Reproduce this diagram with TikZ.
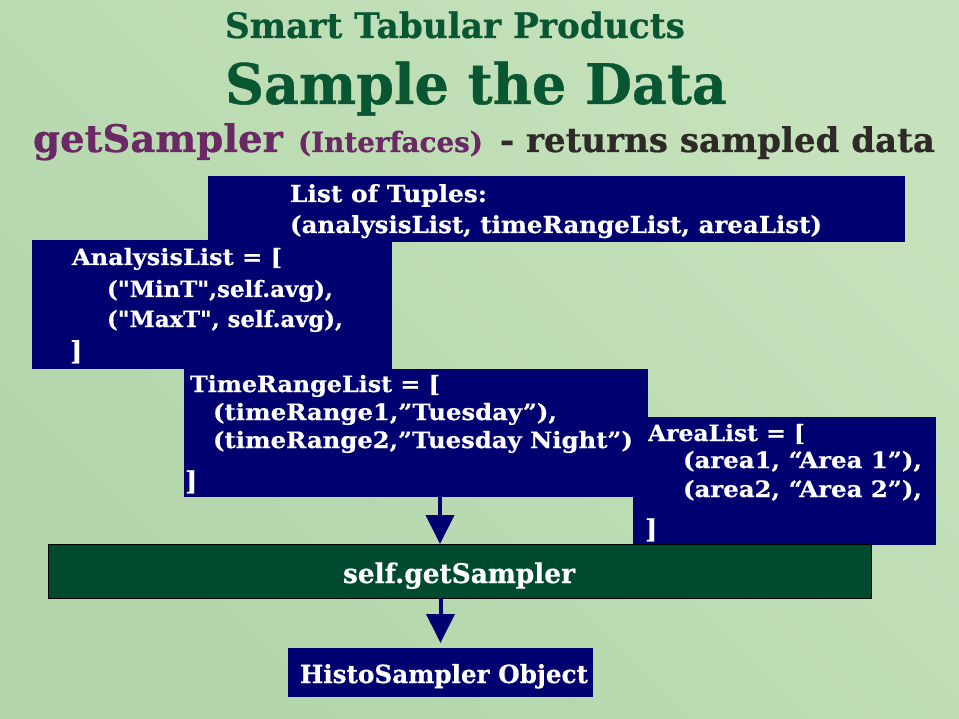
\documentclass[tikz,border=0pt]{standalone}
\usepackage{fontspec}
\setmainfont{DejaVu Serif}[Ligatures=TeXOff, BoldFeatures={FakeBold=0.6}]
\usetikzlibrary{arrows.meta}

\definecolor{navy}{RGB}{0,0,112}
\definecolor{boxgreen}{RGB}{0,75,45}
\definecolor{titlegreen}{RGB}{8,86,50}
\definecolor{plum}{RGB}{106,40,100}
\definecolor{inkdark}{RGB}{46,42,40}
\definecolor{mintA}{RGB}{178,214,170}
\definecolor{mintB}{RGB}{198,226,188}

% set a line of text at a fixed width, keeping its natural height
\newcommand\wline[2]{\resizebox{#1pt}{\height}{#2}}
\newcommand\fs[1]{\fontsize{#1}{#1}\selectfont\bfseries}

\tikzset{
  box/.style={rectangle, fill=navy, draw=none, inner sep=0pt, outer sep=0pt},
  gbox/.style={rectangle, fill=boxgreen, draw=black, line width=1pt, inner sep=0pt, outer sep=0pt},
  txt/.style={anchor=base west, inner sep=0pt, outer sep=0pt, text=white, font=\fs{22.5}},
  brk/.style={txt, font=\fs{26}},
  ttl/.style={anchor=base west, inner sep=0pt, outer sep=0pt},
  arr/.style={draw=navy, line width=4pt, -{Triangle[width=28pt,length=29pt]}},
}

\begin{document}
\begin{tikzpicture}[x=1pt,y=-1pt]
  % background
  \shade[left color=mintA, right color=mintB, shading angle=135] (0,0) rectangle (959,719);
  \useasboundingbox (0,0) rectangle (959,719);

  % headings
  \node[ttl, text=titlegreen, font=\fs{35}] (h1) at (225,38) {\wline{460}{Smart Tabular Products}};
  \node[ttl, text=titlegreen, font=\fs{56}] (h2) at (225,104) {\wline{502}{Sample the Data}};
  \node[ttl, text=plum, font=\fs{38}] (h3a) at (33,152) {\wline{250}{getSampler}};
  \node[ttl, text=plum, font=\fs{28}] (h3b) at (298,152) {\wline{185}{(Interfaces)}};
  \node[ttl, text=inkdark, font=\fs{34}] (h3c) at (500,152) {\wline{435}{- returns sampled data}};

  % list of tuples
  \node[box, minimum width=697pt, minimum height=66pt] (tuples) at (556.5,209) {};
  \node[txt, font=\fs{23.5}] (t1) at (290,202) {\wline{197}{List of Tuples:}};
  \node[txt, font=\fs{23.5}] (t2) at (290,233) {\wline{532}{(analysisList, timeRangeList, areaList)}};

  % analysis list
  \node[box, minimum width=360pt, minimum height=129pt] (analysis) at (212,304.5) {};
  \node[txt] (a1) at (72,265) {\wline{210}{AnalysisList = [}};
  \node[txt] (a2) at (107,297) {\wline{226}{("MinT",self.avg),}};
  \node[txt] (a3) at (107,327) {\wline{236}{("MaxT", self.avg),}};
  \node[brk] (a4) at (70,360) {]};

  % area list
  \node[box, minimum width=303pt, minimum height=128pt] (area) at (784.5,481) {};
  \node[txt] (r1) at (648,441) {\wline{157}{AreaList = [}};
  \node[txt] (r2) at (683,468) {\wline{239}{(area1, “Area 1”),}};
  \node[txt] (r3) at (683,497) {\wline{239}{(area2, “Area 2”),}};
  \node[brk] (r4) at (645,538) {]};

  % time range list
  \node[box, minimum width=464pt, minimum height=128pt] (timerange) at (416,433) {};
  \node[txt] (m1) at (190,392) {\wline{250}{TimeRangeList = [}};
  \node[txt] (m2) at (213,420) {\wline{344}{(timeRange1,”Tuesday”),}};
  \node[txt] (m3) at (213,448) {\wline{420}{(timeRange2,”Tuesday Night”)}};
  \node[brk] (m4) at (185,490) {]};

  % sampler call and result
  \node[gbox, minimum width=823pt, minimum height=54pt] (sampler) at (459.5,571) {};
  \node[txt, font=\fs{27}] (s1) at (343,583) {\wline{232}{self.getSampler}};
  \node[box, minimum width=305pt, minimum height=49pt] (histo) at (440.5,672.5) {};
  \node[txt, font=\fs{25}] (o1) at (300,683) {\wline{288}{HistoSampler Object}};

  % connectors
  \coordinate (ax) at (440,0);
  \draw[arr] (timerange.south -| ax) -- (sampler.north -| ax);
  \draw[arr, shorten >=5pt] (sampler.south -| histo.north) -- (histo.north);
\end{tikzpicture}
\end{document}
